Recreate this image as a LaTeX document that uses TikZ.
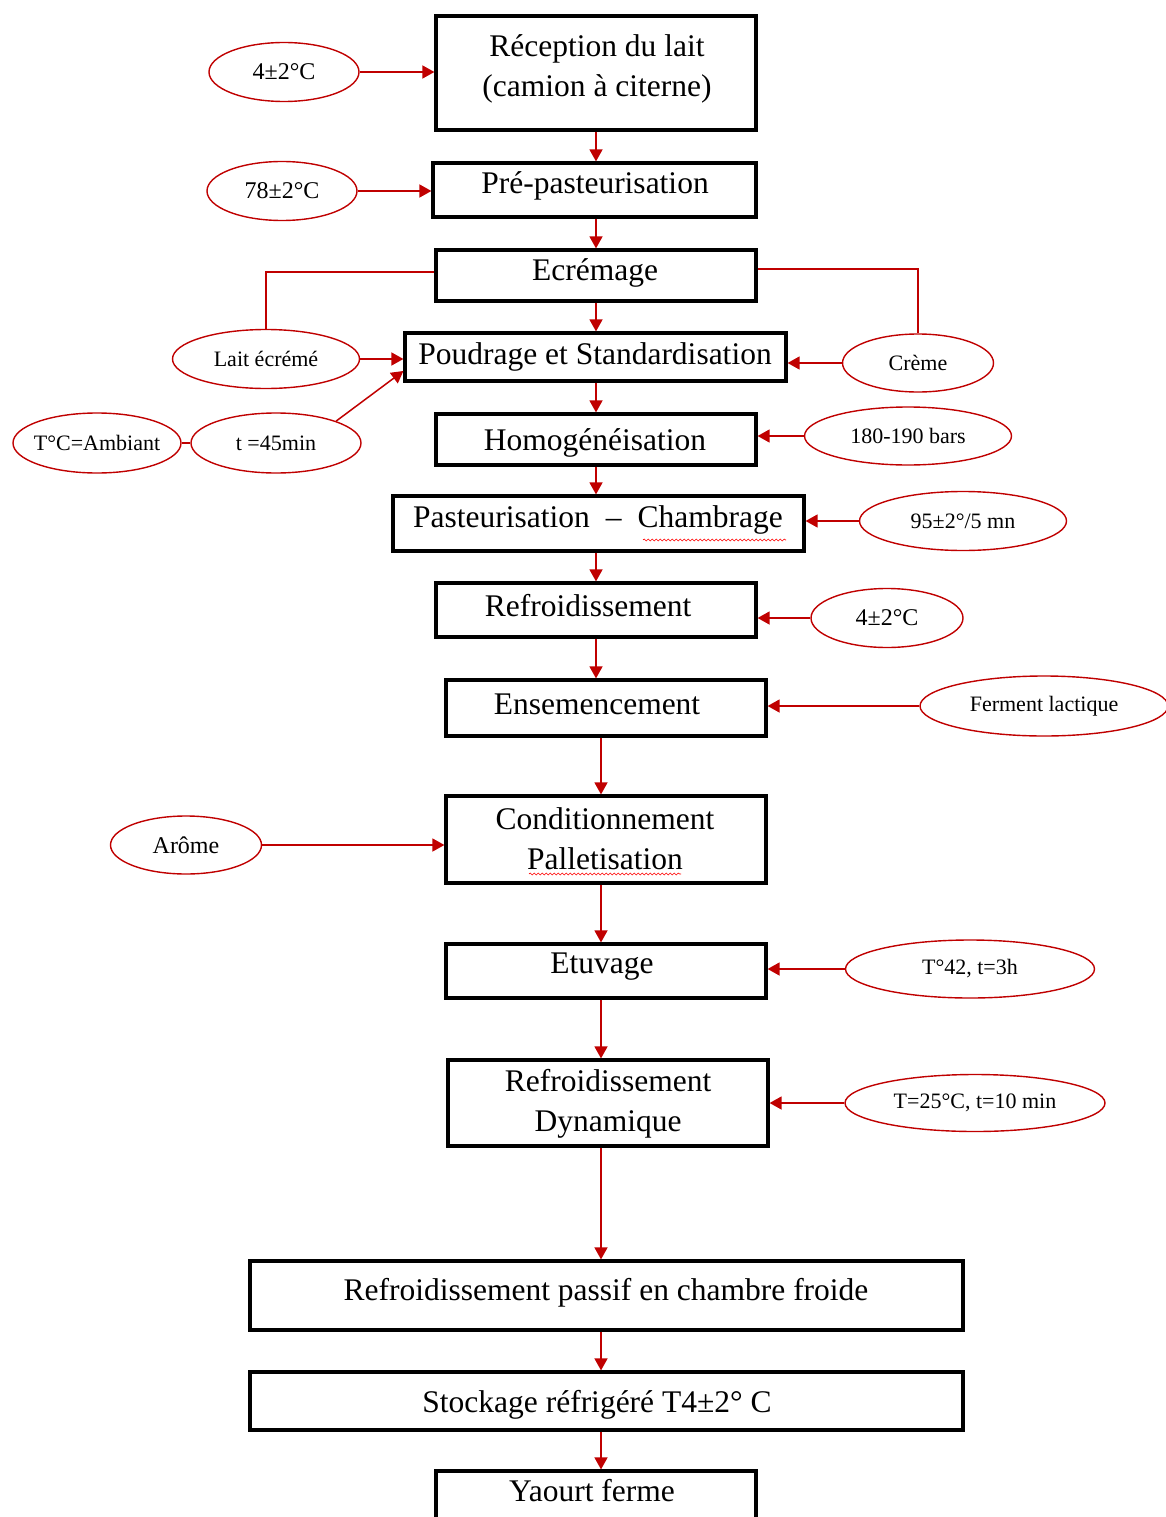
\documentclass[tikz,border=0pt]{standalone}
\usepackage{fontspec}
\setmainfont{Liberation Serif}
\usetikzlibrary{arrows.meta,shapes.geometric,decorations.pathmorphing}
\definecolor{dred}{RGB}{192,0,0}
\begin{document}
\begin{tikzpicture}[x=1pt,y=-1pt,
 box/.style={draw=black, line width=3.2pt, inner sep=0pt},
 txt/.style={inner sep=0pt, align=center, font=\fontsize{31.5}{40}\selectfont},
 oval/.style={ellipse, draw=dred, line width=1.4pt, inner sep=0pt, font=\fontsize{22}{26}\selectfont},
 bigoval/.style={oval, font=\fontsize{24}{28}\selectfont},
 arr/.style={draw=dred, line width=1.5pt, -{Triangle[length=12pt,width=13pt]}},
 lnk/.style={draw=dred, line width=1.5pt},
 squig/.style={draw=red, line width=0.6pt, decorate, decoration={snake, amplitude=1pt, segment length=4pt}}
]
\clip (0,0) rectangle (1166,1517);
\fill[white] (0,0) rectangle (1166,1517);
\coordinate (xa) at (596,0);
\coordinate (xb) at (601,0);

% process boxes
\node[box, minimum width=320pt, minimum height=114pt] (b1) at (596,73) {};
\node[box, minimum width=323pt, minimum height=54pt] (b2) at (594.5,190) {};
\node[box, minimum width=320pt, minimum height=51pt] (b3) at (596,275.5) {};
\node[box, minimum width=381pt, minimum height=48pt] (b4) at (595.5,357) {};
\node[box, minimum width=320pt, minimum height=51pt] (b5) at (596,439.5) {};
\node[box, minimum width=411pt, minimum height=55pt] (b6) at (598.5,523.5) {};
\node[box, minimum width=320pt, minimum height=54pt] (b7) at (596,610) {};
\node[box, minimum width=320pt, minimum height=56pt] (b8) at (606,708) {};
\node[box, minimum width=320pt, minimum height=87pt] (b9) at (606,839.5) {};
\node[box, minimum width=320pt, minimum height=54pt] (b10) at (606,971) {};
\node[box, minimum width=320pt, minimum height=86pt] (b11) at (608,1103) {};
\node[box, minimum width=713pt, minimum height=69pt] (b12) at (606.5,1295.5) {};
\node[box, minimum width=713pt, minimum height=58pt] (b13) at (606.5,1401) {};
\node[box, minimum width=320pt, minimum height=60pt] (b14) at (596,1501) {};

% box texts
\node[txt] (t1) at (597,69) {Réception du lait\\(camion à citerne)};
\node[txt] (t2) at (595,186) {Pré-pasteurisation};
\node[txt] (t3) at (595,273) {Ecrémage};
\node[txt] (t4) at (595,357) {Poudrage et Standardisation};
\node[txt] (t5) at (595,443) {Homogénéisation};
\node[txt] (t6) at (598,520) {Pasteurisation\hspace{16pt}–\hspace{16pt}Chambrage};
\node[txt] (t7) at (588,606) {Refroidissement};
\node[txt] (t8) at (597,704) {Ensemencement};
\node[txt] (t9) at (605,839) {Conditionnement\\Palletisation};
\node[txt] (t10) at (602,967) {Etuvage};
\node[txt] (t11) at (608,1104) {Refroidissement\\Dynamique};
\node[txt] (t12) at (606,1293) {Refroidissement passif en chambre froide};
\node[txt] (t13) at (597,1405) {Stockage réfrigéré T4±2° C};
\node[txt] (t14) at (592,1491) {Yaourt ferme};

% spell-check squiggles
\draw[squig] (643,540) -- (786,540);
\draw[squig] (529,874) -- (681,874);

% ellipses
\node[bigoval, minimum width=150pt, minimum height=59pt] (e1) at (284,72) {4±2°C};
\node[bigoval, minimum width=150pt, minimum height=59pt] (e2) at (282,191) {78±2°C};
\node[oval, minimum width=187pt, minimum height=59pt] (e3) at (266,359) {Lait écrémé};
\node[oval, minimum width=151pt, minimum height=58pt] (e4) at (918,363) {Crème};
\node[oval, inner xsep=-14pt, minimum width=168pt, minimum height=60pt] (e5) at (97,443) {T°C=Ambiant};
\node[oval, minimum width=170pt, minimum height=60pt] (e6) at (276,443) {t =45min};
\node[oval, minimum width=207pt, minimum height=58pt] (e7) at (908,436) {180-190 bars};
\node[oval, minimum width=207pt, minimum height=59pt] (e8) at (963,521) {95±2°/5 mn};
\node[bigoval, minimum width=152pt, minimum height=59pt] (e9) at (887,618) {4±2°C};
\node[oval, minimum width=248pt, minimum height=60pt] (e10) at (1044,706) {Ferment lactique};
\node[bigoval, minimum width=151pt, minimum height=58pt] (e11) at (186,845) {Arôme};
\node[oval, minimum width=249pt, minimum height=58pt] (e12) at (970,969) {T°42, t=3h};
\node[oval, minimum width=260pt, minimum height=57pt] (e13) at (975,1103) {T=25°C, t=10 min};

% main flow arrows
\draw[arr] (b1.south -| xa) -- (b2.north -| xa);
\draw[arr] (b2.south -| xa) -- (b3.north -| xa);
\draw[arr] (b3.south -| xa) -- (b4.north -| xa);
\draw[arr] (b4.south -| xa) -- (b5.north -| xa);
\draw[arr] (b5.south -| xa) -- (b6.north -| xa);
\draw[arr] (b6.south -| xa) -- (b7.north -| xa);
\draw[arr] (b7.south -| xa) -- (b8.north -| xa);
\draw[arr] (b8.south -| xb) -- (b9.north -| xb);
\draw[arr] (b9.south -| xb) -- (b10.north -| xb);
\draw[arr] (b10.south -| xb) -- (b11.north -| xb);
\draw[arr] (b11.south -| xb) -- (b12.north -| xb);
\draw[arr] (b12.south -| xb) -- (b13.north -| xb);
\draw[arr] (b13.south -| xb) -- (b14.north -| xb);

% side inputs
\draw[arr] (e1.east) -- (b1.west |- e1.east);
\draw[arr] (e2.east) -- (b2.west |- e2.east);
\draw[lnk] (b3.west |- 0,272) -| (e3.north);
\draw[lnk] (b3.east |- 0,269) -| (e4.north);
\draw[arr] (e3.east) -- (b4.west |- e3.east);
\draw[arr] (e4.west) -- (b4.east |- e4.west);
\draw[lnk] (e5.east) -- (e6.west);
\draw[arr] (e6.20) -- (b4.west |- 0,371);
\draw[arr] (e7.west) -- (b5.east |- e7.west);
\draw[arr] (e8.west) -- (b6.east |- e8.west);
\draw[arr] (e9.west) -- (b7.east |- e9.west);
\draw[arr] (e10.west) -- (b8.east |- e10.west);
\draw[arr] (e11.east) -- (b9.west |- e11.east);
\draw[arr] (e12.west) -- (b10.east |- e12.west);
\draw[arr] (e13.west) -- (b11.east |- e13.west);
\end{tikzpicture}
\end{document}
